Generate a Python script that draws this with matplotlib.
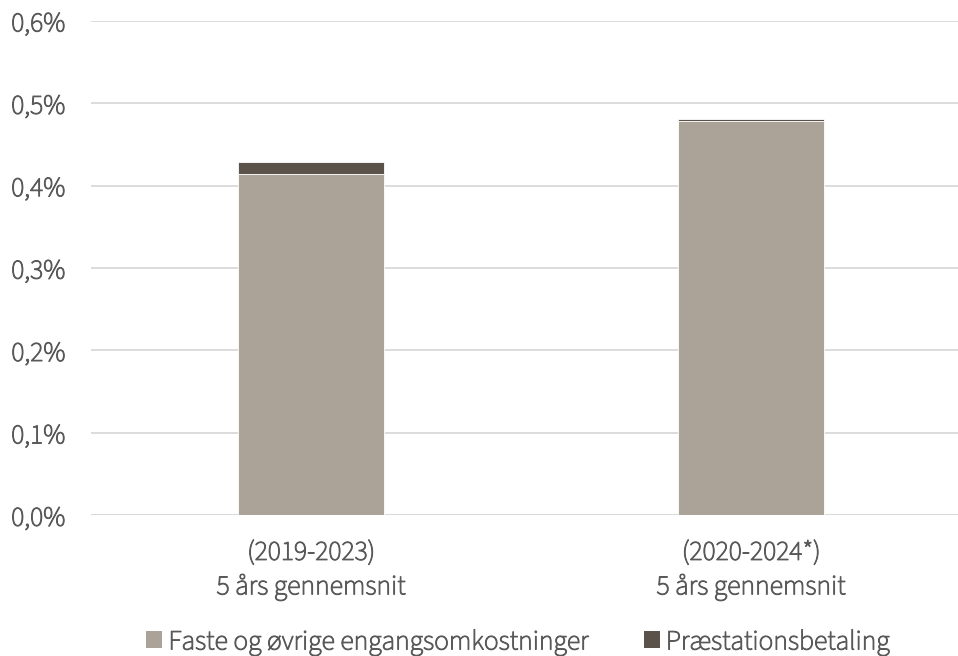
import matplotlib
matplotlib.use("Agg")
import matplotlib.pyplot as plt
from matplotlib.patches import Patch
import matplotlib.patheffects as pe

categories = ["(2019-2023)\n5 års gennemsnit", "(2020-2024*)\n5 års gennemsnit"]
faste = [0.414, 0.479]
praestation = [0.0145, 0.0018]
series_names = ["Faste og øvrige engangsomkostninger", "Præstationsbetaling"]
yticks = [0.0, 0.1, 0.2, 0.3, 0.4, 0.5, 0.6]
ytick_labels = ["0,0%", "0,1%", "0,2%", "0,3%", "0,4%", "0,5%", "0,6%"]

c_fast = "#ABA398"
c_pr = "#5B524A"
txt = "#595959"

plt.rcParams['font.family'] = ['Source Sans 3', 'DejaVu Sans']
plt.rcParams['font.weight'] = 'medium'
thick = [pe.withStroke(linewidth=0.7, foreground=txt)]

fig = plt.figure(figsize=(9.58, 6.56), dpi=100)
ax = fig.add_axes([91/958, 140.7/656, 880/958, 494.4/656])

x = range(len(categories))
ax.bar(x, faste, width=146/440, color=c_fast, edgecolor="white", linewidth=0.6, zorder=3)
ax.bar(x, praestation, bottom=faste, width=146/440, color=c_pr, edgecolor="white", linewidth=0.6, zorder=3)

ax.set_xlim(-0.5, 1.5)
ax.set_ylim(0, 0.6)
ax.set_yticks(yticks)
ax.set_yticklabels(ytick_labels)
ax.set_xticks(list(x))
ax.set_xticklabels(categories, linespacing=1.3)
ax.tick_params(axis='y', length=0, pad=18.5, labelsize=20, labelcolor=txt)
ax.tick_params(axis='x', length=0, pad=17, labelsize=20, labelcolor=txt)
ax.grid(axis='y', color="#D9D9D9", linewidth=1.3, zorder=0)
for s in ax.spines.values():
    s.set_visible(False)
ax.axhline(0, color="#D9D9D9", linewidth=1.3, zorder=2)
for t in ax.get_xticklabels() + ax.get_yticklabels():
    t.set_path_effects(thick)

handles = [Patch(facecolor=c_fast, label=series_names[0]), Patch(facecolor=c_pr, label=series_names[1])]
leg = fig.legend(handles=handles, loc="center", bbox_to_anchor=(518/958, 1 - 642/656), ncol=2, frameon=False,
                 fontsize=20, labelcolor=txt, handlelength=0.58, handleheight=0.58, handletextpad=0.22,
                 columnspacing=2.0, borderpad=0, borderaxespad=0)
for t in leg.get_texts():
    t.set_path_effects(thick)

fig.savefig("out.png", dpi=100)
